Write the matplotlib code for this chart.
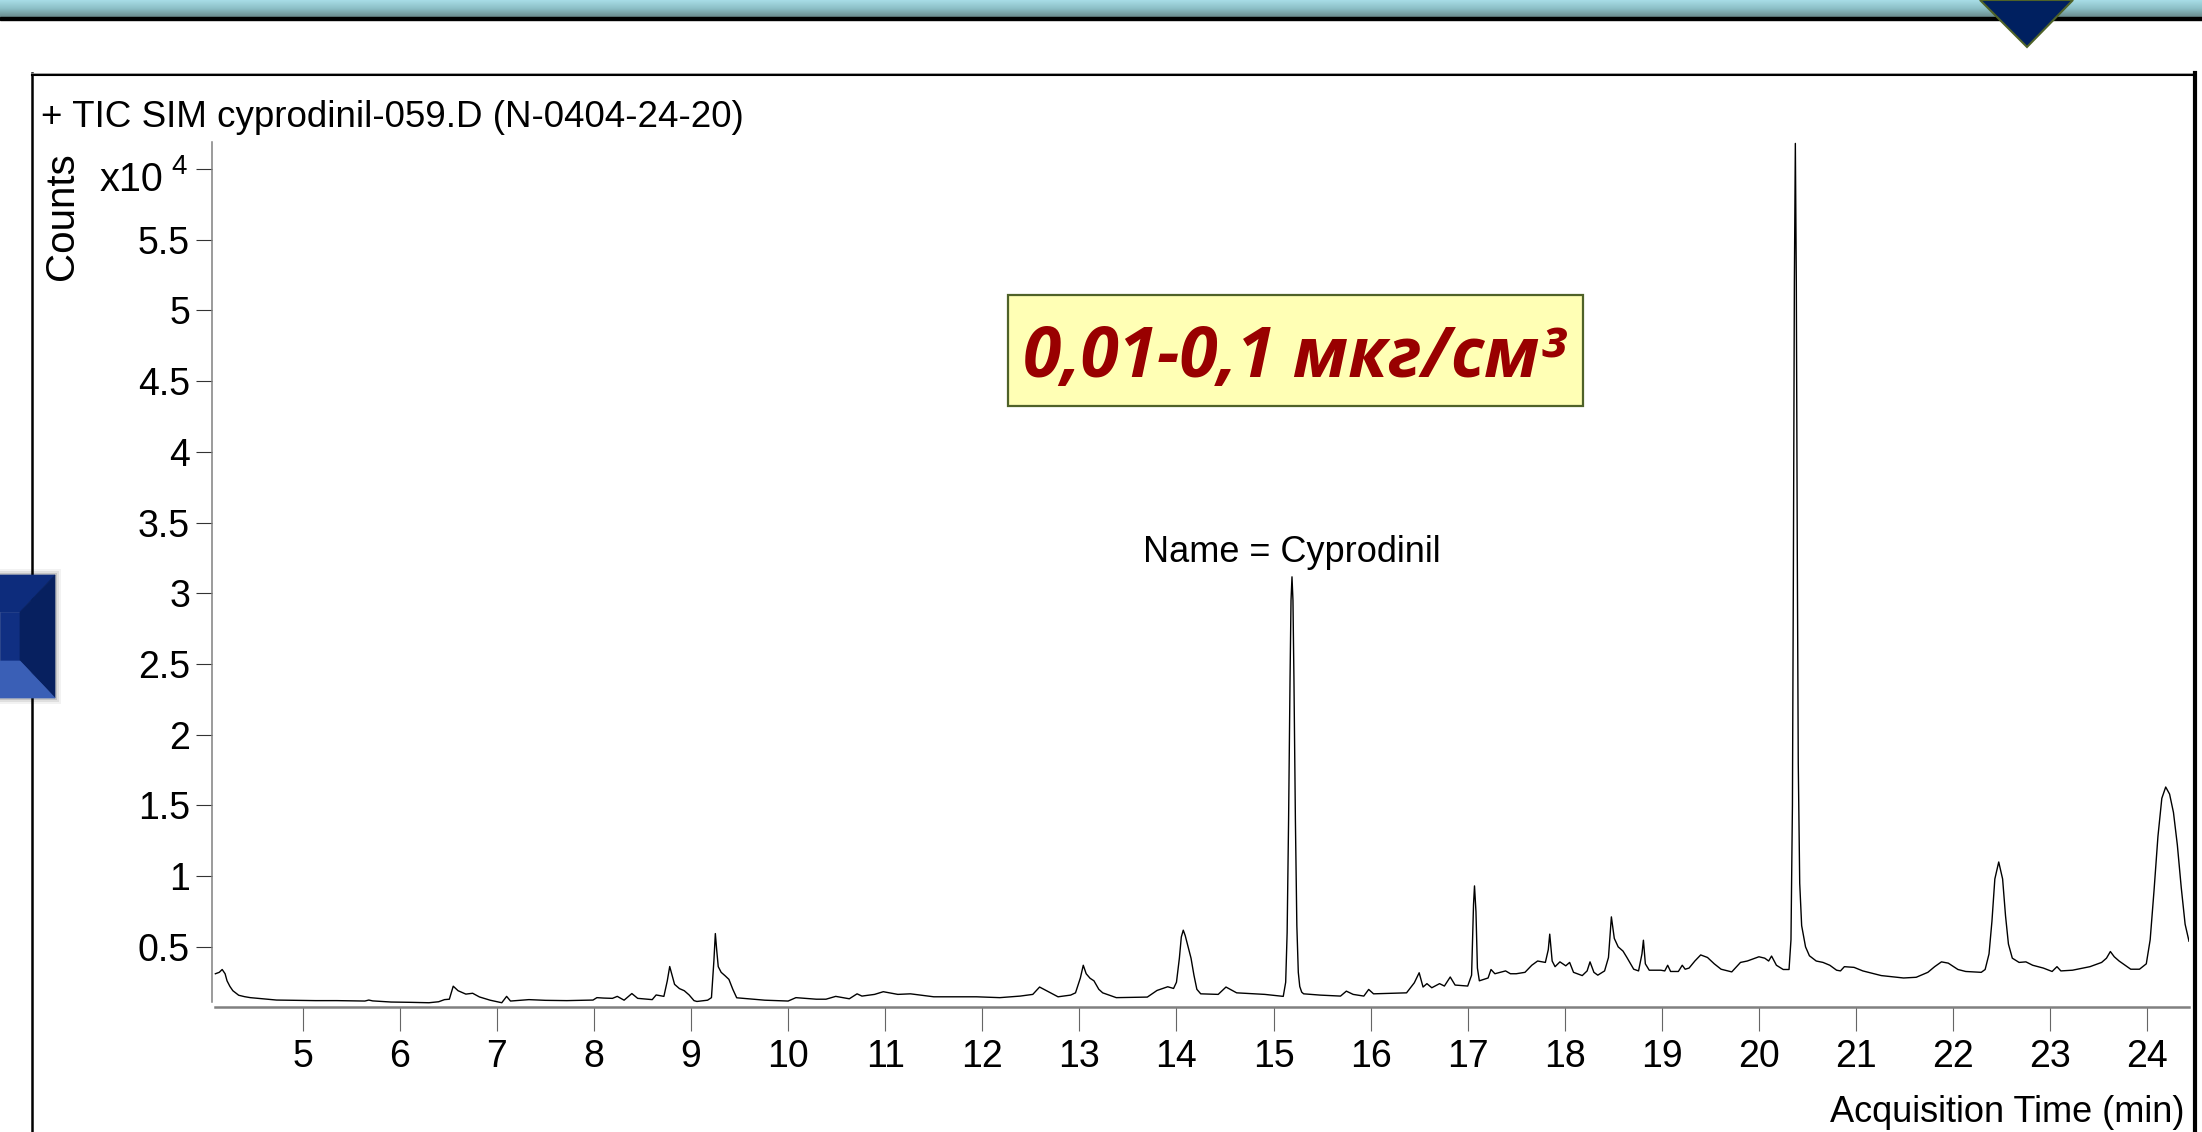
import matplotlib
matplotlib.use('Agg')
import numpy as np
import matplotlib.pyplot as plt
from matplotlib import font_manager
from matplotlib.patches import Polygon, Rectangle
from matplotlib.lines import Line2D
from matplotlib.colors import LinearSegmentedColormap

W, H = 2202, 1132

# chromatogram trace: time (min) vs counts (x10^4)
time_min = [
    4.10, 4.14, 4.17, 4.20, 4.22, 4.25, 4.28, 4.34, 4.40, 4.46, 4.54, 4.60, 4.73, 4.90,
    5.13, 5.35, 5.64, 5.68, 5.72, 5.91, 6.10, 6.30, 6.40, 6.46, 6.51, 6.55, 6.60, 6.65,
    6.68, 6.75, 6.82, 6.93, 7.05, 7.10, 7.14, 7.33, 7.50, 7.72, 7.99, 8.03, 8.10, 8.19,
    8.24, 8.31, 8.39, 8.45, 8.60, 8.64, 8.72, 8.755, 8.78, 8.80, 8.83, 8.88, 8.93, 8.98,
    9.03, 9.06, 9.17, 9.21, 9.235, 9.25, 9.265, 9.28, 9.31, 9.35, 9.39, 9.43, 9.47, 9.76,
    10.00, 10.08, 10.29, 10.39, 10.49, 10.63, 10.71, 10.76, 10.89, 10.98, 11.13, 11.26, 11.50, 11.94,
    12.18, 12.39, 12.52, 12.59, 12.68, 12.78, 12.91, 12.96, 13.01, 13.04, 13.07, 13.11, 13.15, 13.20,
    13.24, 13.38, 13.70, 13.80, 13.91, 13.97, 14.00, 14.03, 14.05, 14.07, 14.09, 14.12, 14.15, 14.18,
    14.21, 14.25, 14.43, 14.51, 14.62, 14.91, 15.10, 15.125, 15.14, 15.155, 15.17, 15.18, 15.19, 15.20,
    15.21, 15.225, 15.24, 15.255, 15.27, 15.29, 15.31, 15.48, 15.69, 15.75, 15.82, 15.93, 15.98, 16.03,
    16.37, 16.45, 16.50, 16.54, 16.58, 16.63, 16.71, 16.76, 16.82, 16.87, 17.00, 17.04, 17.06, 17.07,
    17.085, 17.10, 17.12, 17.21, 17.24, 17.28, 17.39, 17.44, 17.50, 17.59, 17.66, 17.72, 17.80, 17.83,
    17.845, 17.87, 17.90, 17.95, 18.01, 18.05, 18.09, 18.18, 18.23, 18.26, 18.30, 18.34, 18.41, 18.45,
    18.48, 18.51, 18.55, 18.60, 18.64, 18.71, 18.76, 18.795, 18.81, 18.83, 18.87, 18.99, 19.03, 19.06,
    19.09, 19.17, 19.21, 19.24, 19.28, 19.34, 19.40, 19.47, 19.54, 19.61, 19.72, 19.81, 19.88, 20.00,
    20.06, 20.10, 20.13, 20.18, 20.25, 20.31, 20.33, 20.345, 20.355, 20.365, 20.375, 20.385, 20.395, 20.405,
    20.42, 20.44, 20.48, 20.52, 20.59, 20.66, 20.73, 20.80, 20.84, 20.88, 20.98, 21.07, 21.26, 21.49,
    21.62, 21.74, 21.81, 21.88, 21.95, 22.05, 22.13, 22.29, 22.33, 22.37, 22.40, 22.43, 22.47, 22.51,
    22.54, 22.57, 22.61, 22.68, 22.75, 22.82, 22.93, 23.02, 23.07, 23.11, 23.23, 23.41, 23.53, 23.58,
    23.62, 23.66, 23.71, 23.83, 23.92, 23.99, 24.03, 24.07, 24.11, 24.15, 24.19, 24.23, 24.27, 24.31,
    24.35, 24.39, 24.43,
]
counts_e4 = [
    0.31, 0.32, 0.34, 0.31, 0.26, 0.22, 0.19, 0.158, 0.148, 0.141, 0.136, 0.132, 0.124, 0.122,
    0.12, 0.12, 0.117, 0.124, 0.118, 0.11, 0.108, 0.105, 0.112, 0.127, 0.13, 0.222, 0.19, 0.175,
    0.166, 0.172, 0.146, 0.123, 0.105, 0.15, 0.117, 0.127, 0.122, 0.12, 0.124, 0.141, 0.138, 0.136,
    0.15, 0.123, 0.17, 0.136, 0.127, 0.16, 0.15, 0.26, 0.361, 0.31, 0.235, 0.205, 0.19, 0.16,
    0.12, 0.114, 0.123, 0.141, 0.40, 0.594, 0.47, 0.36, 0.32, 0.296, 0.27, 0.20, 0.14, 0.123,
    0.117, 0.141, 0.13, 0.13, 0.15, 0.133, 0.168, 0.152, 0.164, 0.183, 0.164, 0.168, 0.147, 0.147,
    0.141, 0.152, 0.164, 0.216, 0.183, 0.147, 0.159, 0.175, 0.28, 0.37, 0.31, 0.278, 0.26, 0.20,
    0.175, 0.141, 0.145, 0.192, 0.218, 0.206, 0.25, 0.42, 0.57, 0.618, 0.58, 0.50, 0.42, 0.30,
    0.20, 0.168, 0.164, 0.216, 0.175, 0.164, 0.15, 0.25, 0.6, 1.4, 2.4, 2.95, 3.116, 2.95,
    2.4, 1.4, 0.65, 0.32, 0.22, 0.18, 0.168, 0.159, 0.152, 0.187, 0.164, 0.152, 0.199, 0.168,
    0.175, 0.246, 0.317, 0.216, 0.24, 0.211, 0.24, 0.223, 0.287, 0.23, 0.223, 0.30, 0.80, 0.931,
    0.75, 0.35, 0.26, 0.28, 0.34, 0.31, 0.33, 0.31, 0.31, 0.32, 0.37, 0.40, 0.39, 0.48,
    0.59, 0.40, 0.36, 0.394, 0.366, 0.39, 0.32, 0.297, 0.33, 0.394, 0.32, 0.30, 0.33, 0.425,
    0.712, 0.56, 0.50, 0.47, 0.425, 0.342, 0.33, 0.45, 0.547, 0.38, 0.335, 0.335, 0.33, 0.37,
    0.326, 0.326, 0.37, 0.342, 0.35, 0.40, 0.443, 0.425, 0.38, 0.342, 0.323, 0.39, 0.40, 0.43,
    0.42, 0.40, 0.435, 0.37, 0.34, 0.34, 0.55, 1.5, 3.2, 5.2, 6.18, 5.2, 3.3, 1.8,
    0.95, 0.65, 0.50, 0.437, 0.40, 0.39, 0.37, 0.335, 0.33, 0.36, 0.355, 0.33, 0.297, 0.28,
    0.285, 0.32, 0.36, 0.394, 0.385, 0.34, 0.326, 0.32, 0.34, 0.45, 0.68, 0.98, 1.10, 0.98,
    0.72, 0.52, 0.42, 0.39, 0.394, 0.37, 0.35, 0.326, 0.36, 0.33, 0.335, 0.36, 0.39, 0.42,
    0.467, 0.43, 0.40, 0.342, 0.342, 0.38, 0.55, 0.90, 1.28, 1.55, 1.63, 1.58, 1.45, 1.22,
    0.92, 0.66, 0.54,
]

x_ticks = list(range(5, 25))
y_ticks = [0.5, 1, 1.5, 2, 2.5, 3, 3.5, 4, 4.5, 5, 5.5, 6]
y_tick_labels = ['0.5', '1', '1.5', '2', '2.5', '3', '3.5', '4', '4.5', '5', '5.5', '']

peak_name = 'Name = Cyprodinil'
peak_time, peak_height = 15.19, 3.116
title = '+ TIC SIM cyprodinil-059.D (N-0404-24-20)'
conc_label = '0,01-0,1 мкг/см³'

_names = {f.name for f in font_manager.fontManager.ttflist}
NARROW = 'Liberation Sans Narrow' if 'Liberation Sans Narrow' in _names else 'Liberation Sans'


def fx(px):
    return px / W


def fy(py):
    return 1 - py / H


fig = plt.figure(figsize=(W / 100, H / 100), dpi=100)
fig.patch.set_facecolor('white')

# top banner with gradient
bar = fig.add_axes([0, fy(17), 1, 17 / H])
grad = np.linspace(0, 1, 64).reshape(-1, 1)
bar.imshow(grad, aspect='auto', cmap=LinearSegmentedColormap.from_list('bar', ['#a8dde7', '#8cbfc6', '#6a8b8d']))
bar.set_axis_off()
fig.add_artist(Rectangle((0, fy(20)), 1, 3 / H, transform=fig.transFigure, color='black', zorder=3))
fig.add_artist(Polygon([(fx(1980), fy(0)), (fx(2073), fy(0)), (fx(2027), fy(47))], closed=True,
                       transform=fig.transFigure, facecolor='#002060', edgecolor='#4f6228', lw=1.5, zorder=5))

# bevelled blue tab on the left edge
for i, a in enumerate([0.05, 0.08, 0.12]):
    d = 6 - 2 * i
    fig.add_artist(Rectangle((fx(0), fy(698 + d)), fx(55 + d), (123 + 2 * d) / H, transform=fig.transFigure,
                             color='black', alpha=a, lw=0, zorder=4))
tab = [
    ([(0, 575), (55, 575), (20, 612), (0, 612)], '#0d2c7c'),
    ([(0, 612), (20, 612), (20, 661), (0, 661)], '#102f82'),
    ([(55, 575), (55, 698), (20, 661), (20, 612)], '#07205f'),
    ([(0, 661), (20, 661), (55, 698), (0, 698)], '#3a5fb6'),
]
for pts, col in tab:
    fig.add_artist(Polygon([(fx(x), fy(y)) for x, y in pts], closed=True, transform=fig.transFigure,
                           facecolor=col, edgecolor=col, lw=0.5, zorder=5))

# panel frame
fig.add_artist(Line2D([fx(32), fx(32)], [fy(73), fy(H + 5)], transform=fig.transFigure, color='black', lw=1.8))
fig.add_artist(Line2D([fx(32), fx(2195)], [fy(73.5), fy(73.5)], transform=fig.transFigure, color='#9a9a9a', lw=1.2))
fig.add_artist(Line2D([fx(32), fx(2195)], [fy(75), fy(75)], transform=fig.transFigure, color='black', lw=1.5))
fig.add_artist(Line2D([fx(2195), fx(2195)], [fy(73), fy(H + 5)], transform=fig.transFigure, color='black', lw=3))

# chromatogram
ax = fig.add_axes([fx(211.5), fy(1006.7), fx(2189) - fx(211.5), (1006.7 - 142) / H])
ax.plot(time_min, counts_e4, color='black', lw=1.0, solid_joinstyle='round')
ax.set_xlim(4.06, 24.43)
ax.set_ylim(0.077, 6.19)
ax.set_facecolor('none')
for s in ('top', 'right'):
    ax.spines[s].set_visible(False)
ax.spines['left'].set_color('#808080')
ax.spines['left'].set_linewidth(1.1)
ax.spines['left'].set_bounds(0.11, 6.19)
ax.spines['bottom'].set_color('#808080')
ax.spines['bottom'].set_linewidth(1.8)
ax.spines['bottom'].set_bounds(4.10, 24.43)

ax.set_xticks(x_ticks)
ax.set_xticklabels([str(t) for t in x_ticks], fontfamily=NARROW, fontsize=27)
ax.set_yticks(y_ticks)
ax.set_yticklabels(y_tick_labels, fontfamily=NARROW, fontsize=27)
ax.tick_params(axis='x', direction='out', length=17, width=0.8, color='#666666', pad=6)
ax.tick_params(axis='y', direction='out', length=11.5, width=0.8, color='#333333', pad=4)

ax.annotate(peak_name, xy=(peak_time, peak_height), xytext=(0, 5), textcoords='offset points',
            ha='center', va='bottom', fontfamily=NARROW, fontsize=26)

# texts around the plot
fig.text(fx(41), fy(127), title, fontfamily=NARROW, fontsize=26.5, va='baseline', ha='left')
fig.text(fx(62), fy(216), 'Counts', family='Liberation Sans', fontsize=29, rotation=90, ha='center', va='center')
fig.text(fx(163), fy(191), 'x10', fontfamily=NARROW, fontsize=28.5, ha='right', va='baseline')
fig.text(fx(171), fy(174), '4', fontfamily=NARROW, fontsize=20, ha='left', va='baseline')
fig.text(fx(2184), fy(1122), 'Acquisition Time (min)', fontfamily=NARROW, fontsize=26, ha='right', va='baseline')

# concentration box
fig.add_artist(Rectangle((fx(1008), fy(406)), fx(1583) - fx(1008), (406 - 295) / H, transform=fig.transFigure,
                         facecolor='#ffffb5', edgecolor='#4f6228', lw=1.6, zorder=3))
fig.text(fx(1294), fy(377), conc_label, family=['Open Sans', 'DejaVu Sans'], fontsize=50, fontweight='bold',
         fontstyle='italic', color='#990000', ha='center', va='baseline', zorder=4)

fig.savefig('out.png', dpi=100)
